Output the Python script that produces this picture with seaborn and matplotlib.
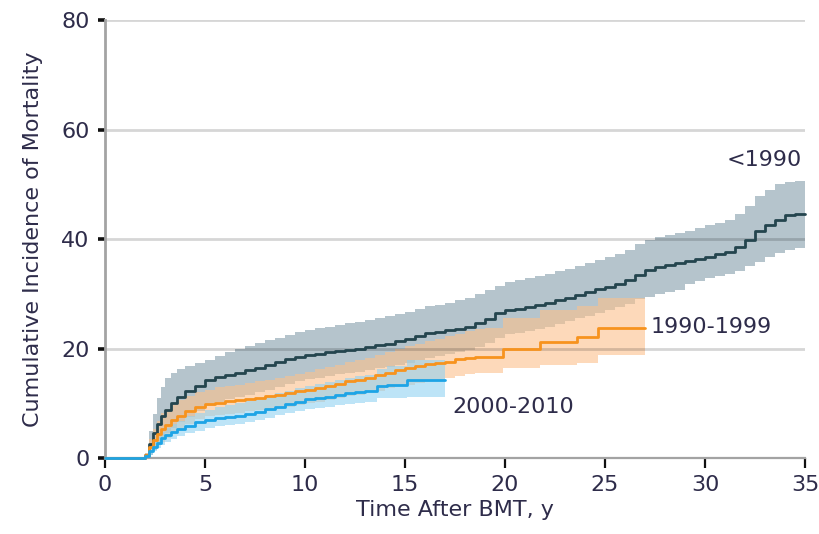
import numpy as np
import pandas as pd
import matplotlib
matplotlib.use("Agg")
import matplotlib.pyplot as plt
import seaborn as sns

# Cumulative incidence of late mortality by transplant era (step estimates with 95% CI)
t_pre1990 = [0, 2.0, 2.2, 2.4, 2.6, 2.8, 3.0, 3.3, 3.6, 4.0, 4.5, 5.0, 5.5, 6.0, 6.5, 7.0,
             7.5, 8.0, 8.5, 9.0, 9.5, 10.0, 10.5, 11.0, 11.5, 12.0, 12.5, 13.0, 13.5, 14.0,
             14.5, 15.0, 15.5, 16.0, 16.5, 17.0, 17.5, 18.0, 18.5, 19.0, 19.5, 20.0, 20.5,
             21.0, 21.5, 22.0, 22.5, 23.0, 23.5, 24.0, 24.5, 25.0, 25.5, 26.0, 26.5, 27.0,
             27.5, 28.0, 28.5, 29.0, 29.5, 30.0, 30.5, 31.0, 31.5, 32.0, 32.5, 33.0, 33.5,
             34.0, 34.5, 35.0]
ci_pre1990 = [0, 0.5, 2.5, 4.5, 6.2, 7.6, 8.8, 10.0, 11.2, 12.2, 13.2, 14.2, 14.8, 15.2, 15.6,
              16.0, 16.4, 16.9, 17.5, 18.0, 18.5, 18.8, 19.0, 19.3, 19.5, 19.8, 20.0, 20.3,
              20.6, 20.9, 21.3, 21.8, 22.3, 22.8, 23.1, 23.4, 23.6, 24.0, 24.6, 25.3, 26.4,
              27.0, 27.3, 27.6, 27.9, 28.3, 28.8, 29.3, 29.8, 30.3, 30.8, 31.3, 31.8, 32.6,
              33.5, 34.3, 34.8, 35.2, 35.6, 36.0, 36.4, 36.8, 37.2, 37.6, 38.5, 39.8, 41.4,
              42.5, 43.5, 44.3, 44.5, 44.5]
hi_pre1990 = [0, 1.0, 5.0, 8.0, 11.0, 13.0, 14.6, 15.5, 16.2, 16.8, 17.3, 17.9, 18.6, 19.3,
              20.0, 20.5, 21.0, 21.5, 22.0, 22.5, 23.0, 23.4, 23.7, 24.0, 24.3, 24.6, 24.9,
              25.2, 25.5, 25.9, 26.3, 26.7, 27.2, 27.7, 28.0, 28.4, 28.8, 29.3, 29.9, 30.6,
              31.5, 32.2, 32.5, 32.8, 33.2, 33.6, 34.1, 34.6, 35.1, 35.7, 36.2, 36.8, 37.3,
              38.0, 39.0, 39.8, 40.3, 40.7, 41.1, 41.5, 42.0, 42.5, 43.0, 43.5, 44.5, 46.0,
              47.8, 49.0, 50.0, 50.5, 50.6, 50.6]
lo_pre1990 = [0, 0, 0.5, 1.5, 2.5, 3.5, 4.5, 5.5, 6.5, 7.5, 8.5, 9.5, 10.2, 10.8, 11.2, 11.6,
              12.0, 12.5, 13.0, 13.5, 14.0, 14.4, 14.7, 15.0, 15.3, 15.6, 15.8, 16.1, 16.4,
              16.7, 17.0, 17.4, 17.9, 18.3, 18.7, 19.0, 19.3, 19.7, 20.3, 21.0, 22.0, 22.6,
              22.9, 23.2, 23.5, 24.0, 24.5, 25.0, 25.5, 26.0, 26.5, 27.0, 27.5, 28.2, 29.0,
              29.5, 30.0, 30.3, 30.7, 31.8, 32.3, 32.8, 33.2, 33.6, 34.2, 35.0, 35.8, 36.7,
              37.5, 38.0, 38.3, 38.3]

t_1990s = [0, 2.0, 2.2, 2.4, 2.6, 2.8, 3.0, 3.3, 3.6, 4.0, 4.5, 5.0, 5.5, 6.0, 6.5, 7.0, 7.5,
           8.0, 8.5, 9.0, 9.5, 10.0, 10.5, 11.0, 11.5, 12.0, 12.5, 13.0, 13.5, 14.0, 14.5,
           15.0, 15.5, 16.0, 16.5, 17.0, 17.5, 18.0, 18.5, 19.0, 19.9, 21.75, 23.6, 24.65, 27.0]
ci_1990s = [0, 0.5, 2.0, 3.2, 4.3, 5.3, 6.0, 6.9, 7.6, 8.5, 9.3, 9.8, 10.1, 10.4, 10.6, 10.8,
            11.0, 11.3, 11.6, 11.9, 12.2, 12.5, 12.8, 13.2, 13.6, 14.0, 14.3, 14.7, 15.1, 15.6,
            16.1, 16.5, 16.8, 17.1, 17.3, 17.6, 18.0, 18.2, 18.4, 18.4, 20.0, 21.2, 22.1, 23.7,
            23.7]
hi_1990s = [0, 1.0, 3.5, 5.3, 6.8, 8.2, 9.0, 9.9, 10.6, 11.3, 12.0, 12.5, 12.9, 13.2, 13.4,
            13.7, 14.0, 14.3, 14.7, 15.0, 15.4, 15.8, 16.2, 16.6, 17.0, 17.5, 17.9, 18.3, 18.8,
            19.3, 19.9, 20.4, 20.8, 21.3, 21.7, 22.2, 22.7, 23.2, 23.5, 23.8, 25.5, 27.0, 27.8,
            29.2, 29.2]
lo_1990s = [0, 0, 1.0, 1.7, 2.4, 3.0, 3.6, 4.5, 5.2, 6.3, 7.2, 7.6, 7.9, 8.1, 8.3, 8.5, 8.7,
            8.9, 9.2, 9.4, 9.7, 10.0, 10.3, 10.6, 11.0, 11.3, 11.6, 12.0, 12.3, 12.7, 13.1,
            13.4, 13.7, 14.0, 14.3, 14.6, 15.0, 15.3, 15.5, 15.6, 16.5, 17.0, 17.4, 18.8, 18.8]

t_2000s = [0, 2.0, 2.2, 2.4, 2.6, 2.8, 3.0, 3.3, 3.6, 4.0, 4.5, 5.0, 5.5, 6.0, 6.5, 7.0, 7.5,
           8.0, 8.5, 9.0, 9.5, 10.0, 10.5, 11.0, 11.5, 12.0, 12.5, 13.0, 13.6, 14.1, 15.1, 17.0]
ci_2000s = [0, 0.3, 1.2, 2.0, 2.8, 3.6, 4.2, 4.8, 5.3, 5.9, 6.5, 6.9, 7.3, 7.5, 7.7, 8.0, 8.4,
            8.9, 9.4, 9.9, 10.3, 10.7, 11.0, 11.2, 11.5, 11.8, 12.0, 12.2, 13.2, 13.4, 14.2,
            14.2]
hi_2000s = [0, 0.6, 2.0, 3.0, 3.9, 4.8, 5.5, 6.2, 6.8, 7.6, 8.3, 8.8, 9.3, 9.7, 10.0, 10.4,
            10.8, 11.3, 11.8, 12.3, 12.7, 13.1, 13.5, 13.8, 14.2, 14.6, 14.9, 15.2, 16.3, 16.8,
            17.9, 17.9]
lo_2000s = [0, 0, 0.6, 1.2, 1.8, 2.3, 2.9, 3.5, 4.0, 4.5, 5.0, 5.4, 5.8, 6.0, 6.2, 6.5, 6.9,
            7.3, 7.8, 8.2, 8.6, 8.9, 9.2, 9.4, 9.6, 9.8, 10.0, 10.2, 10.9, 11.0, 11.2, 11.2]

eras = ["<1990", "1990-1999", "2000-2010"]
x_ticks = [0, 5, 10, 15, 20, 25, 30, 35]
y_ticks = [0, 20, 40, 60, 80]

series = {
    "<1990": (t_pre1990, ci_pre1990, lo_pre1990, hi_pre1990),
    "1990-1999": (t_1990s, ci_1990s, lo_1990s, hi_1990s),
    "2000-2010": (t_2000s, ci_2000s, lo_2000s, hi_2000s),
}
line_colors = {"<1990": "#24454e", "1990-1999": "#f7931e", "2000-2010": "#1da4e6"}
band_colors = {"<1990": ("#9db0bb", 0.75), "1990-1999": ("#fcc18c", 0.6),
               "2000-2010": ("#92d2f2", 0.6)}

df = pd.concat(
    [pd.DataFrame({"time": s[0], "incidence": s[1], "era": name}) for name, s in series.items()],
    ignore_index=True,
)

sns.set_theme(style="white")
text_color = "#2e2c4a"
plt.rcParams["font.family"] = ["DejaVu Sans"]

fig = plt.figure(figsize=(8.19, 5.34), dpi=100)
ax = fig.add_axes([0.1282, 0.1423, 0.8547, 0.8202])

for name in eras:
    t, ci, lo, hi = series[name]
    col, a = band_colors[name]
    ax.fill_between(t, lo, hi, step="post", color=col, alpha=a, lw=0, zorder=1)

sns.lineplot(data=df, x="time", y="incidence", hue="era", hue_order=eras,
             palette=line_colors, estimator=None, drawstyle="steps-post",
             linewidth=2.0, legend=False, ax=ax, zorder=3)
for ln in ax.get_lines():
    ln.set_clip_on(False)

ax.set_xlim(0, 35)
ax.set_ylim(0, 80)
ax.set_xticks(x_ticks)
ax.set_yticks(y_ticks)

# horizontal reference lines sit above the bands so they show through them
for yv in y_ticks[1:]:
    ax.axhline(yv, color="black", alpha=0.16, linewidth=2.0, zorder=2)

for side in ["top", "right"]:
    ax.spines[side].set_visible(False)
ax.spines["left"].set_color("#a3a3a3")
ax.spines["left"].set_linewidth(2.0)
ax.spines["bottom"].set_color("#a3a3a3")
ax.spines["bottom"].set_linewidth(1.6)

ax.tick_params(axis="y", direction="out", length=5, width=2.6, color="#111111",
               labelsize=16, labelcolor=text_color, pad=6, left=True)
ax.tick_params(axis="x", direction="out", length=7, width=1.6, color="#111111",
               labelsize=16, labelcolor=text_color, pad=5, bottom=True)

ax.set_xlabel("Time After BMT, y", fontsize=16, color=text_color, labelpad=4)
ax.set_ylabel("Cumulative Incidence of Mortality", fontsize=16, color=text_color, labelpad=13)

ax.text(34.85, 54.4, "<1990", fontsize=16, color=text_color, ha="right", va="center")
ax.text(27.3, 23.9, "1990-1999", fontsize=16, color=text_color, ha="left", va="center")
ax.text(17.35, 9.3, "2000-2010", fontsize=16, color=text_color, ha="left", va="center")

fig.savefig("out.png", dpi=100)
